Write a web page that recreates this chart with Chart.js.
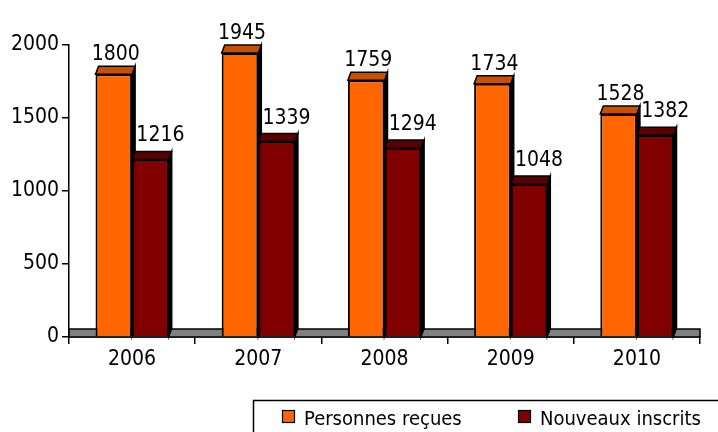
<!DOCTYPE html>
<html>
<head>
<meta charset="utf-8">
<script src="https://cdn.jsdelivr.net/npm/chart.js@4/dist/chart.umd.min.js"></script>
<style>
html,body{margin:0;padding:0;background:#fff;}
#wrap{width:718px;height:432px;position:relative;}
</style>
</head>
<body>
<div id="wrap"><canvas id="c" width="718" height="432"></canvas></div>
<script>
const categories = ['2006','2007','2008','2009','2010'];
const personnesRecues = [1800, 1945, 1759, 1734, 1528];
const nouveauxInscrits = [1216, 1339, 1294, 1048, 1382];
const seriesNames = ['Personnes reçues', 'Nouveaux inscrits'];
const yTicks = [0, 500, 1000, 1500, 2000];

const FONT = "'DejaVu Sans Condensed', 'DejaVu Sans', sans-serif";
const frontColors = ['#FF6600', '#800000'];
const topColors = ['#C85000', '#5A0000'];
const DX = 3, DY = 8;
const labelGap = [6, 10];
const labelShift = [2, 10];

const threeD = {
  id: 'threeD',
  beforeDatasetsDraw(chart) {
    const ctx = chart.ctx, ca = chart.chartArea;
    const y0 = chart.scales.y.getPixelForValue(0);
    ctx.save();
    ctx.fillStyle = '#808080';
    ctx.strokeStyle = '#000';
    ctx.lineWidth = 1.5;
    ctx.fillRect(ca.left, y0 - DY, ca.right - ca.left, DY);
    ctx.strokeRect(ca.left, y0 - DY, ca.right - ca.left, DY);
    ctx.restore();
  },
  afterDatasetsDraw(chart) {
    const ctx = chart.ctx;
    const metas = [chart.getDatasetMeta(0), chart.getDatasetMeta(1)];
    const n = chart.data.labels.length;
    ctx.save();
    for (let i = 0; i < n; i++) {
      metas.forEach((meta, d) => {
        const el = meta.data[i];
        if (d === 1) el.draw(ctx);
        const p = el.getProps(['x','y','base','width'], true);
        const l = p.x - p.width/2, r = p.x + p.width/2, t = p.y, b = p.base;
        ctx.lineWidth = 1.5;
        ctx.strokeStyle = '#000';
        ctx.beginPath();
        ctx.moveTo(r, t); ctx.lineTo(r + DX, t - DY); ctx.lineTo(r + DX, b - DY); ctx.lineTo(r, b); ctx.closePath();
        ctx.fillStyle = '#000'; ctx.fill(); ctx.stroke();
        ctx.beginPath();
        ctx.moveTo(l, t); ctx.lineTo(l + DX, t - DY); ctx.lineTo(r + DX, t - DY); ctx.lineTo(r, t); ctx.closePath();
        ctx.fillStyle = topColors[d]; ctx.fill(); ctx.stroke();
      });
    }
    ctx.fillStyle = '#000';
    ctx.font = '21px ' + FONT;
    ctx.textAlign = 'center';
    ctx.textBaseline = 'alphabetic';
    metas.forEach((meta, d) => {
      const data = chart.data.datasets[d].data;
      meta.data.forEach((el, i) => {
        ctx.fillText(String(data[i]), el.x + labelShift[d], el.y - DY - labelGap[d]);
      });
    });
    ctx.restore();
  },
  afterDraw(chart) {
    const ctx = chart.ctx;
    ctx.save();
    ctx.strokeStyle = '#000';
    ctx.lineWidth = 1.5;
    ctx.beginPath();
    ctx.moveTo(253.5, 440); ctx.lineTo(253.5, 400.5); ctx.lineTo(730, 400.5);
    ctx.stroke();
    const items = [{x: 282, c: frontColors[0], t: seriesNames[0]}, {x: 518, c: frontColors[1], t: seriesNames[1]}];
    ctx.font = '20px ' + FONT;
    ctx.textBaseline = 'alphabetic';
    ctx.textAlign = 'left';
    ctx.lineWidth = 1.2;
    items.forEach(it => {
      ctx.fillStyle = it.c;
      ctx.fillRect(it.x, 410, 13, 13);
      ctx.strokeRect(it.x + 0.5, 410.5, 12, 12);
      ctx.fillStyle = '#000';
      ctx.fillText(it.t, it.x + 22, 425);
    });
    ctx.restore();
  }
};

new Chart(document.getElementById('c'), {
  type: 'bar',
  data: {
    labels: categories,
    datasets: [
      {label: seriesNames[0], data: personnesRecues, backgroundColor: frontColors[0], borderColor: '#000', borderWidth: 2},
      {label: seriesNames[1], data: nouveauxInscrits, backgroundColor: frontColors[1], borderColor: '#000', borderWidth: 2}
    ]
  },
  options: {
    responsive: false,
    animation: false,
    devicePixelRatio: 1,
    layout: {padding: {top: 45, right: 18, left: 0, bottom: 0}},
    plugins: {legend: {display: false}, tooltip: {enabled: false}},
    datasets: {bar: {categoryPercentage: 0.58, barPercentage: 1}},
    scales: {
      x: {
        grid: {display: true, drawOnChartArea: false, color: '#000', lineWidth: 1.5, tickLength: 7, offset: true},
        border: {display: true, color: '#000', width: 1.5},
        ticks: {color: '#000', font: {family: FONT, size: 21}, padding: 3},
        afterFit(s) { s.height = 95; }
      },
      y: {
        min: 0, max: 2000,
        afterBuildTicks(s) { s.ticks = yTicks.map(v => ({value: v})); },
        grid: {display: true, drawOnChartArea: false, color: '#000', lineWidth: 1.5, tickLength: 7},
        border: {display: true, color: '#000', width: 1.5},
        ticks: {color: '#000', font: {family: FONT, size: 21}, padding: 3, callback: v => String(v)},
        afterFit(s) { s.width = 69; }
      }
    }
  },
  plugins: [threeD]
});
</script>
</body>
</html>
